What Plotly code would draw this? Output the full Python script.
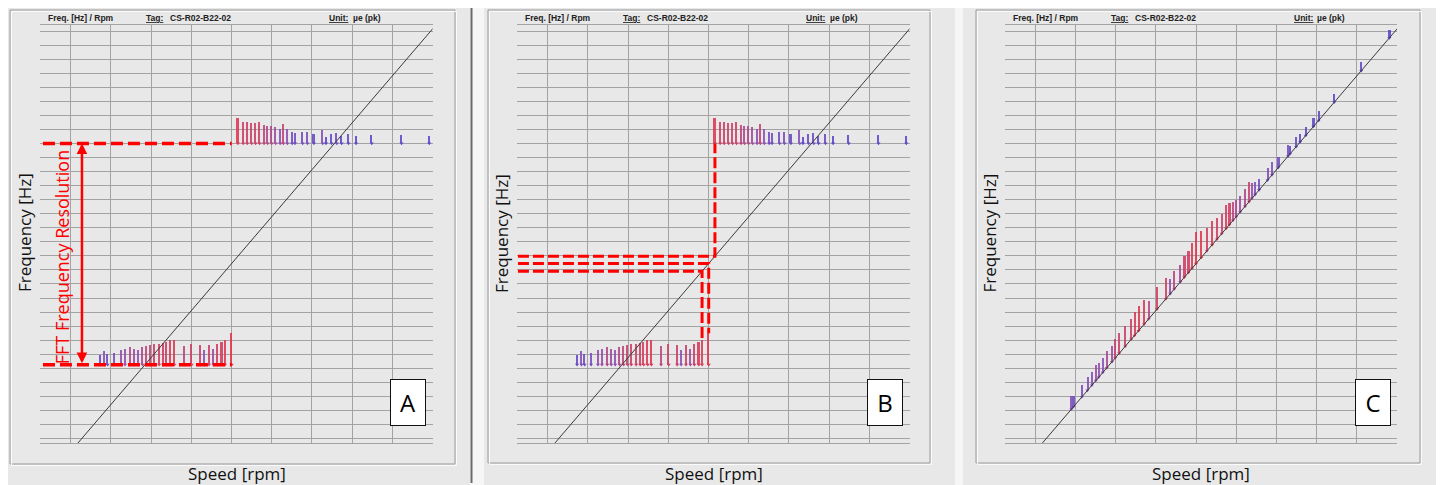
import numpy as np
import plotly.graph_objects as go

# ---------------- data ----------------
speed_range = [224, 1200]          # rpm
freq_range = [0.68, 30.43]         # Hz

diag_speed = [318, 1204]           # 1x order line
diag_freq = [0.68, 30.28]

low_base = 6.25                    # lower FFT bin (Hz)
high_base = 22.0                   # upper FFT bin (Hz)

low_speed = [373, 384, 392, 408, 425, 435, 448, 458, 468, 479, 489, 499, 508, 520,
             530, 539, 549, 558, 582, 601, 622, 632, 644, 655, 665, 676, 684, 700.5]
low_amp = [0.66, 0.95, 0.78, 0.85, 1.07, 1.09, 1.25, 1.14, 1.02, 1.25, 1.32, 1.37, 1.49, 1.49,
           1.54, 1.61, 1.73, 1.78, 1.30, 1.49, 1.44, 1.02, 1.44, 1.14, 1.49, 1.61, 1.73, 2.25]

high_speed = [716, 729, 739, 750, 760, 770, 781, 790, 800, 810, 821, 829, 839, 851,
              858, 877, 889, 905, 927, 935, 949, 962, 974, 991, 1010, 1049, 1123, 1192]
high_amp = [1.78, 1.54, 1.54, 1.42, 1.42, 1.54, 1.30, 1.25, 1.25, 1.14, 1.00, 1.37, 1.00, 0.78,
            0.75, 0.78, 0.83, 0.66, 0.95, 0.47, 0.64, 0.75, 0.52, 0.66, 0.52, 0.59, 0.59, 0.52]

c_speed = [390, 395, 416, 430, 441, 451, 458, 468, 478, 491, 499, 509, 524, 539, 547, 557,
           571, 582, 603, 625, 636, 646, 661, 671, 681, 690, 700, 713, 727, 740, 752, 764,
           775, 783, 792, 800, 810, 822, 832, 839, 847, 857, 878, 889, 905, 929, 934, 949,
           959, 973, 992, 1005, 1044, 1111, 1181]
c_amp = [0.95, 0.78, 0.88, 0.95, 0.95, 1.14, 1.02, 1.02, 1.19, 1.12, 1.37, 1.42, 1.42, 1.42, 1.66, 1.78,
         1.73, 1.26, 1.59, 1.49, 1.07, 1.30, 1.19, 1.54, 1.54, 1.78, 2.26, 1.90, 1.62, 1.71, 1.54, 1.42,
         1.66, 1.54, 1.30, 1.19, 1.14, 1.23, 1.37, 1.07, 0.90, 0.78, 0.88, 0.90, 0.76, 0.83, 0.59, 0.71,
         0.59, 0.59, 0.59, 0.66, 0.57, 0.64, 0.57]

fft_line_start = 231               # rpm, start of red dashed bin lines (panel A)
arrow_speed = 328                  # rpm, resolution arrow (panel A)
label_pos = [278.4, 13.9]          # rpm, Hz of rotated red label
b_line_start = 226                 # rpm, start of dashed lines (panel B)

panel_labels = ["A", "B", "C"]
header_texts = ["<b>Freq. [Hz] / Rpm</b>", "<b><u>Tag:</u></b>", "<b>CS-R02-B22-02</b>",
                "<b><u>Unit:</u></b>", "<b>µe (pk)</b>"]

# ---------------- layout helpers ----------------
# the page body has an 8px margin, so the figure is placed at (8, 8)
SH = 8
W, H = 1444 - SH, 485 - SH
def px(x): return (x - SH) / W
def py(y): return 1 - (y - SH) / H

offsets = [0, 477, 964.5]
GRID = "#a3a3a3"
RED = "#ff0000"
cscale = [[0, "#5a46cc"], [0.35, "#8c4fb6"], [0.62, "#c8406c"], [1, "#e4344a"]]
cmin, cmax = 0.55, 1.9

fig = go.Figure()
ids = ["", "2", "3"]

ab_speed = low_speed + high_speed
ab_amp = low_amp + high_amp
ab_base = [low_base] * len(low_speed) + [high_base] * len(high_speed)
c_base = list(np.interp(c_speed, diag_speed, diag_freq))

for i, off in enumerate(offsets):
    xa, ya = "x" + ids[i], "y" + ids[i]
    fig.layout["xaxis" + ids[i]] = dict(
        domain=[px(off + 40.15), px(off + 432.5)], range=speed_range, anchor=ya,
        dtick=100, tick0=0, showgrid=True, gridcolor=GRID, gridwidth=1.4,
        showticklabels=False, ticks="", zeroline=False, showline=True, mirror=True,
        linecolor=GRID, linewidth=1.4, fixedrange=True)
    fig.layout["yaxis" + ids[i]] = dict(
        domain=[py(443), py(25)], range=freq_range, anchor=xa,
        dtick=1, tick0=0, showgrid=True, gridcolor=GRID, gridwidth=1.4,
        showticklabels=False, ticks="", zeroline=False, showline=False, fixedrange=True)

    if i < 2:
        xs, amps, bases = ab_speed, ab_amp, ab_base
    else:
        xs, amps, bases = c_speed, c_amp, c_base

    fig.add_trace(go.Bar(x=xs, y=amps, base=bases, width=4.0, xaxis=xa, yaxis=ya,
                         marker=dict(color=amps, colorscale=cscale, cmin=cmin, cmax=cmax,
                                     line=dict(width=0)),
                         opacity=0.88, showlegend=False))
    fig.add_trace(go.Scatter(x=xs, y=bases, mode="markers", xaxis=xa, yaxis=ya,
                             marker=dict(symbol="triangle-down", size=3.5, color=amps,
                                         colorscale=cscale, cmin=cmin, cmax=cmax),
                             showlegend=False, hoverinfo="skip"))
    fig.add_trace(go.Scatter(x=diag_speed, y=diag_freq, mode="lines", xaxis=xa, yaxis=ya,
                             line=dict(color="#3a3a3a", width=1), showlegend=False))

# Panel A: red dashed bin lines + arrow + label
fig.add_trace(go.Scatter(
    x=[fft_line_start, low_speed[-1], None, fft_line_start, low_speed[-1]],
    y=[high_base, high_base, None, low_base, low_base],
    mode="lines", xaxis="x", yaxis="y",
    line=dict(color=RED, width=3.5, dash="12px,5px"), showlegend=False))
fig.add_annotation(x=arrow_speed, y=high_base, ax=arrow_speed, ay=low_base,
                   xref="x", yref="y", axref="x", ayref="y", text="",
                   showarrow=True, arrowhead=2, startarrowhead=2, arrowside="end+start",
                   arrowsize=0.85, startarrowsize=0.85, arrowwidth=2.5, arrowcolor=RED,
                   standoff=0, startstandoff=0)
fig.add_annotation(x=label_pos[0], y=label_pos[1], xref="x", yref="y",
                   text="FFT Frequency Resolution", textangle=-90, showarrow=False,
                   xanchor="center", yanchor="middle",
                   font=dict(color=RED, size=18, family="Open Sans"))

# Panel B: dashed lines from the order line to bins
hl = [(low_speed[-2], low_base + low_amp[-2]),
      (low_speed[-1], low_base + low_amp[-1]),
      (high_speed[0], high_base)]
bx, by = [], []
for s, end in hl:
    d = float(np.interp(s, diag_speed, diag_freq))
    bx += [b_line_start, s, s, None]
    by += [d, d, end, None]
fig.add_trace(go.Scatter(x=bx, y=by, mode="lines", xaxis="x2", yaxis="y2",
                         line=dict(color=RED, width=3, dash="11px,4px"), showlegend=False))

# ---------------- panel chrome ----------------
shapes = []
panel_bg = [(8, 470), (484, 955), (963, 1444)]
frames = [(10, 455, 464), (488, 930, 463), (976, 1420, 463)]
for (x0, x1) in panel_bg:
    shapes.append(dict(type="rect", xref="paper", yref="paper", x0=px(x0), x1=px(x1),
                       y0=py(485), y1=py(8), fillcolor="#e8e8e8", line=dict(width=0),
                       layer="below"))
for (x0, x1, yb) in frames:
    shapes.append(dict(type="rect", xref="paper", yref="paper", x0=px(x0), x1=px(x1),
                       y0=py(yb), y1=py(10), line=dict(color="#9a9a9a", width=1),
                       fillcolor="rgba(0,0,0,0)", layer="below"))
    shapes.append(dict(type="rect", xref="paper", yref="paper", x0=px(x0 + 1.5), x1=px(x1 + 1.5),
                       y0=py(yb + 1.5), y1=py(11.5), line=dict(color="#fbfbfb", width=1),
                       fillcolor="rgba(0,0,0,0)", layer="below"))
shapes.append(dict(type="line", xref="paper", yref="paper", x0=px(471.5), x1=px(471.5),
                   y0=py(483), y1=py(8), line=dict(color="#6a6a6a", width=2)))
fig.update_layout(shapes=shapes)

header_rel = [46, 144, 168, 327, 350.5]
for i, off in enumerate(offsets):
    for t, hx in zip(header_texts, header_rel):
        fig.add_annotation(x=px(off + hx), y=py(18), xref="paper", yref="paper", text=t,
                           xanchor="left", yanchor="middle", showarrow=False,
                           font=dict(family="Liberation Sans", size=8.5, color="#222222"))
    fig.add_annotation(x=px(off + 236.5), y=py(473), xref="paper", yref="paper",
                       text="Speed [rpm]", showarrow=False, xanchor="center", yanchor="middle",
                       font=dict(family="Open Sans", size=17, color="#111111"))
    fig.add_annotation(x=px(off + 24), y=py(233), xref="paper", yref="paper",
                       text="Frequency [Hz]", textangle=-90, showarrow=False,
                       xanchor="center", yanchor="middle",
                       font=dict(family="Open Sans", size=17, color="#111111"))
    fig.add_annotation(x=px(off + 408), y=py(402.5), xref="paper", yref="paper",
                       text=panel_labels[i], showarrow=False, bgcolor="white",
                       xanchor="center", yanchor="middle",
                       bordercolor="#111111", borderwidth=1, borderpad=0, width=34, height=45,
                       font=dict(family="Open Sans", size=24, color="#000000"))

fig.update_layout(width=W, height=H, margin=dict(l=0, r=0, t=0, b=0),
                  paper_bgcolor="#f6f6f6", plot_bgcolor="#e8e8e8",
                  font=dict(family="Open Sans"), bargap=0, showlegend=False)

fig.write_html("out.html")
